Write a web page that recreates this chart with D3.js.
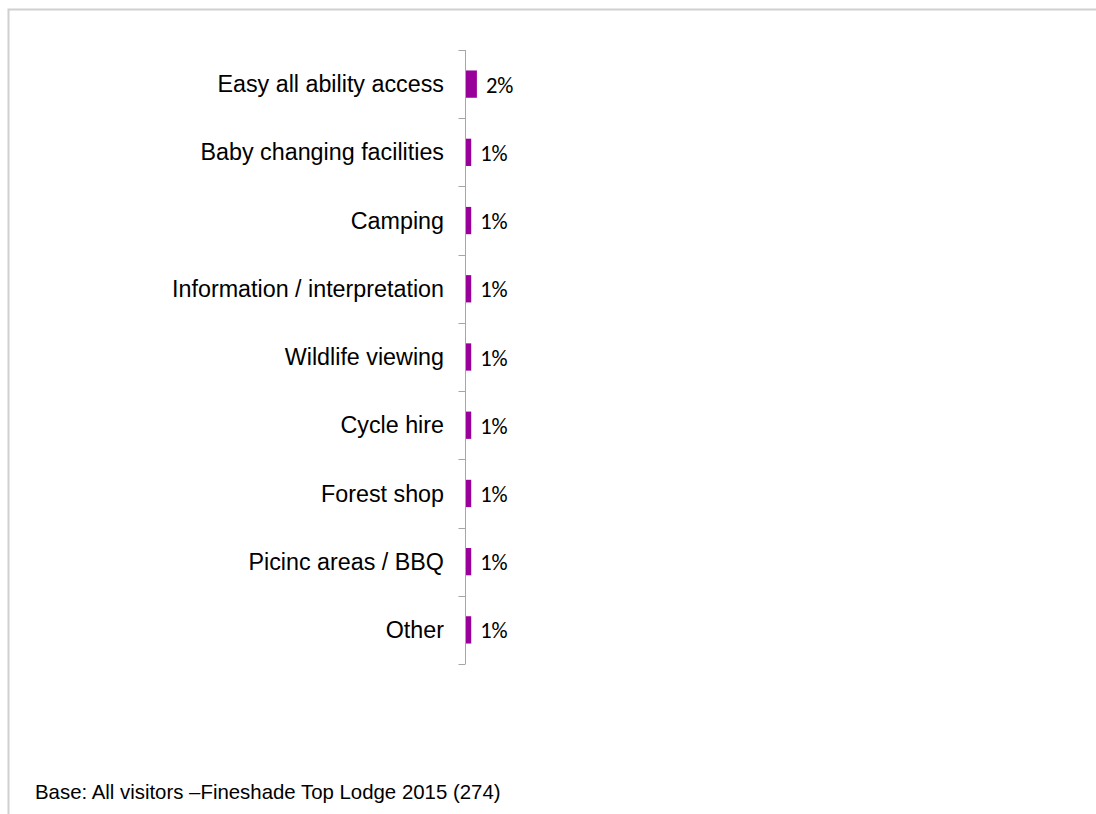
<!DOCTYPE html>
<html>
<head>
<meta charset="utf-8">
<script src="https://cdn.jsdelivr.net/npm/d3@7"></script>
<style>
  html, body { margin: 0; padding: 0; background: #fff; }
  svg { display: block; }
</style>
</head>
<body>
<svg id="chart" width="1096" height="814"></svg>
<script>
// Facilities mentioned by visitors (% of respondents)
const categories = [
  "Easy all ability access",
  "Baby changing facilities",
  "Camping",
  "Information / interpretation",
  "Wildlife viewing",
  "Cycle hire",
  "Forest shop",
  "Picinc areas / BBQ",
  "Other"
];
const values = [2, 1, 1, 1, 1, 1, 1, 1, 1];
const footnote = "Base: All visitors \u2013Fineshade Top Lodge 2015 (274)";

const svg = d3.select("#chart");

// Frame around the slide area
svg.append("path")
  .attr("d", "M8.5,814 L8.5,9.5 L1096,9.5")
  .attr("fill", "none")
  .attr("stroke", "#d0d0d0")
  .attr("stroke-width", 2);

const axisX = 465.5;
const plotTop = 50, plotBottom = 664;
const y = d3.scaleBand()
  .domain(categories)
  .range([plotTop, plotBottom])
  .paddingInner(0.6)
  .paddingOuter(0.3);

const x = d3.scaleLinear()
  .domain([0, 100])
  .range([axisX, axisX + 570]);

const g = svg.append("g");

// Bars
g.selectAll("rect.bar")
  .data(values)
  .join("rect")
  .attr("class", "bar")
  .attr("x", x(0))
  .attr("y", (d, i) => y(categories[i]))
  .attr("width", d => x(d) - x(0))
  .attr("height", y.bandwidth())
  .attr("fill", "#990099");

// Category axis: vertical line with ticks between bands
const boundaries = d3.range(categories.length + 1)
  .map(i => plotTop + i * ((plotBottom - plotTop) / categories.length));
g.append("line")
  .attr("x1", axisX).attr("x2", axisX)
  .attr("y1", plotTop).attr("y2", plotBottom)
  .attr("stroke", "#a6a6a6").attr("stroke-width", 1);
g.selectAll("line.tick")
  .data(boundaries)
  .join("line")
  .attr("class", "tick")
  .attr("x1", axisX - 7).attr("x2", axisX)
  .attr("y1", d => Math.round(d) + 0.5).attr("y2", d => Math.round(d) + 0.5)
  .attr("stroke", "#a6a6a6").attr("stroke-width", 1);

// Category labels
g.selectAll("text.cat")
  .data(categories)
  .join("text")
  .attr("class", "cat")
  .attr("x", 444)
  .attr("y", d => y(d) + y.bandwidth() / 2)
  .attr("dy", "0.35em")
  .attr("text-anchor", "end")
  .attr("font-family", "Liberation Sans, Arial, sans-serif")
  .attr("font-size", 23.3)
  .attr("fill", "#000")
  .text(d => d);

// Value labels
g.selectAll("text.val")
  .data(values)
  .join("text")
  .attr("class", "val")
  .attr("x", d => x(d) + 9)
  .attr("y", (d, i) => y(categories[i]) + y.bandwidth() / 2)
  .attr("dy", "0.38em")
  .attr("font-family", "Carlito, Lato, sans-serif")
  .attr("font-size", 22.5)
  .attr("fill", "#000")
  .text(d => d + "%");

// Footnote
svg.append("text")
  .attr("x", 35)
  .attr("y", 799)
  .attr("font-family", "Liberation Sans, Arial, sans-serif")
  .attr("font-size", 20.4)
  .attr("fill", "#000")
  .text(footnote);
</script>
</body>
</html>
